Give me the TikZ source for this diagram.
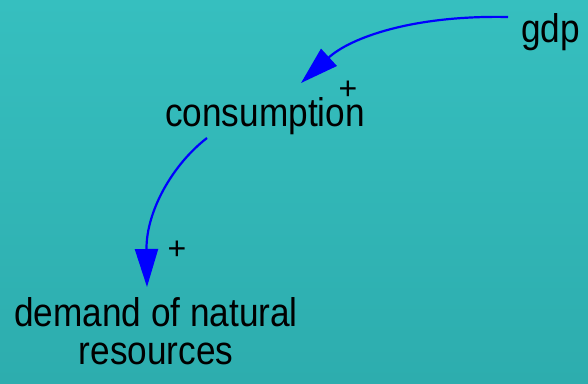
\documentclass[tikz,border=0pt]{standalone}
\usepackage{fontspec}
\setmainfont{Liberation Sans}
\newfontfamily\varfont[FakeStretch=0.88]{Liberation Sans}
\usetikzlibrary{arrows.meta}
\definecolor{bgtop}{RGB}{54,191,191}
\definecolor{bgbot}{RGB}{45,173,174}
\definecolor{linkblue}{RGB}{0,0,255}
\tikzset{
  var/.style={font=\varfont\fontsize{40}{38}\selectfont, inner sep=0pt, align=center, text=black},
  pol/.style={font=\fontsize{32}{32}\selectfont, inner sep=0pt, text=black},
  link/.style={draw=linkblue, line width=2.2pt, -{Triangle[length=38pt,width=23pt]}}
}
\begin{document}
\begin{tikzpicture}[x=1pt,y=-1pt]
\shade[top color=bgtop, bottom color=bgbot] (0,0) rectangle (588,383);
\useasboundingbox (0,0) rectangle (588,383);
\node[var, anchor=base] (gdp) at (550.5,42) {gdp};
\node[var, anchor=base] (cons) at (265,126) {consumption};
\node[var, anchor=base] (dem) at (156,364) {demand of natural\\resources};
\node[pol] (p1) at (348,90) {+};
\node[pol] (p2) at (177,250) {+};
\coordinate (a1s) at ([shift={(-42.5,-25)}]gdp.base);
\coordinate (a1e) at ([shift={(36,-43)}]cons.base);
\draw[link] (a1s) .. controls (412,15) and (350,38) .. (a1e);
\coordinate (a2s) at ([shift={(-58,12)}]cons.base);
\coordinate (a2e) at ([shift={(-9,-77)}]dem.base);
\draw[link] (a2s) .. controls (172,165) and (146,212) .. (a2e);
\end{tikzpicture}
\end{document}
